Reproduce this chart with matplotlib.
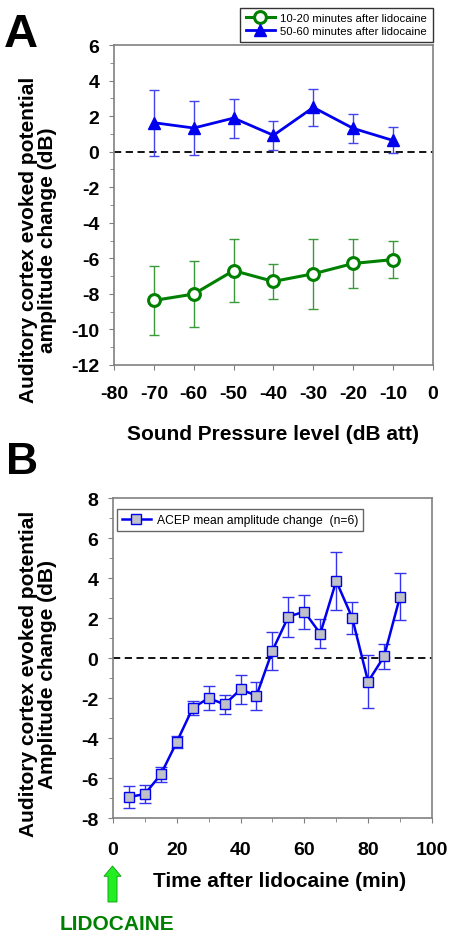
import matplotlib
matplotlib.use("Agg")
import matplotlib.pyplot as plt
import numpy as np

plt.rcParams["font.family"] = ["Liberation Sans", "DejaVu Sans"]
plt.rcParams["axes.unicode_minus"] = False

# panel A data
spl = [-70, -60, -50, -40, -30, -20, -10]
early = [-8.37, -8.01, -6.69, -7.30, -6.87, -6.29, -6.07]
early_err = [1.93, 1.85, 1.78, 0.98, 1.97, 1.38, 1.04]
late = [1.63, 1.33, 1.89, 0.92, 2.49, 1.31, 0.63]
late_err = [1.85, 1.52, 1.10, 0.82, 1.05, 0.82, 0.73]

# panel B data
t = [5, 10, 15, 20, 25, 30, 35, 40, 45, 50, 55, 60, 65, 70, 75, 80, 85, 90]
acep = [-6.95, -6.80, -5.82, -4.20, -2.50, -2.00, -2.32, -1.57, -1.88, 0.37,
        2.07, 2.32, 1.22, 3.85, 2.02, -1.18, 0.08, 3.07]
acep_err = [0.57, 0.47, 0.38, 0.30, 0.34, 0.60, 0.46, 0.73, 0.70, 0.95,
            1.00, 0.85, 0.72, 1.45, 0.80, 1.33, 0.64, 1.17]

green = "#008000"
blue = "#0000ee"

fig = plt.figure(figsize=(4.53, 9.37), dpi=100)

def style_axes(ax, xpad):
    for s in ax.spines.values():
        s.set_color("#808080")
        s.set_linewidth(1.2)
    ax.tick_params(axis="both", which="both", direction="out", colors="#808080",
                   labelcolor="black", labelsize=14)
    ax.tick_params(which="major", length=3.5)
    ax.tick_params(which="minor", length=3)
    ax.tick_params(axis="x", pad=xpad)
    ax.tick_params(axis="y", pad=7)
    for lab in ax.get_xticklabels() + ax.get_yticklabels():
        lab.set_fontweight("bold")

# ---------- A ----------
axA = fig.add_axes([0.2517, 0.6094, 0.704, 0.3415])
axA.axhline(0, color="black", ls="--", lw=1.3, dashes=(4, 2.5), zorder=1)
axA.errorbar(spl, early, yerr=early_err, fmt="none", ecolor="#3a9a3a", elinewidth=1,
             capsize=3.5, capthick=1, zorder=2)
axA.errorbar(spl, late, yerr=late_err, fmt="none", ecolor="#4444ee", elinewidth=1,
             capsize=3.5, capthick=1, zorder=2)
axA.plot(spl, early, color=green, lw=2.2, marker="o", ms=8.5, mfc="white", mec=green,
         mew=2.2, label="10-20 minutes after lidocaine", zorder=3)
axA.plot(spl, late, color=blue, lw=2, marker="^", ms=8, mfc=blue, mec=blue,
         label="50-60 minutes after lidocaine", zorder=3)
axA.set_xlim(-80, 0)
axA.set_ylim(-12, 6)
axA.set_xticks(np.arange(-80, 1, 10))
axA.set_yticks(np.arange(-12, 7, 2))
axA.set_yticks(np.arange(-11, 6, 2), minor=True)
style_axes(axA, 11)
axA.set_xlabel("Sound Pressure level (dB att)", fontsize=15, fontweight="bold", labelpad=16)
axA.set_ylabel("Auditory cortex evoked potential\namplitude change (dB)", fontsize=15,
               fontweight="bold", linespacing=0.95)
axA.yaxis.label.set_va("center")
axA.yaxis.set_label_coords(-0.238, 0.394)
legA = axA.legend(loc="lower right", bbox_to_anchor=(1.0, 1.01), fontsize=8.2,
                  frameon=True, fancybox=False, edgecolor="black", borderpad=0.5,
                  handlelength=2.6, handletextpad=0.45, labelspacing=0.25,
                  borderaxespad=0)
legA.get_frame().set_linewidth(1)
fig.text(4 / 453, 1 - 35 / 937, "A", fontsize=34, fontweight="bold", va="center")

# ---------- B ----------
axB = fig.add_axes([0.2494, 0.1259, 0.704, 0.3415])
axB.axhline(0, color="black", ls="--", lw=1.3, dashes=(4, 2.5), zorder=1)
axB.errorbar(t, acep, yerr=acep_err, fmt="none", ecolor="#3333ee", elinewidth=1,
             capsize=4, capthick=1, zorder=2)
axB.plot(t, acep, color=blue, lw=1.8, marker="s", ms=7, mfc="#c0c0c8", mec=blue,
         mew=1, label="ACEP mean amplitude change  (n=6)", zorder=3)
axB.set_xlim(0, 100)
axB.set_ylim(-8, 8)
axB.set_xticks(np.arange(0, 101, 20))
axB.set_xticks(np.arange(10, 100, 20), minor=True)
axB.set_yticks(np.arange(-8, 9, 2))
axB.set_yticks(np.arange(-7, 8, 2), minor=True)
style_axes(axB, 13)
axB.set_xlabel("Time after lidocaine (min)", fontsize=15, fontweight="bold")
axB.xaxis.set_label_coords(0.523, -0.195)
axB.xaxis.label.set_va("center")
axB.set_ylabel("Auditory cortex evoked potential\nAmplitude change (dB)", fontsize=15,
               fontweight="bold", linespacing=0.95)
axB.yaxis.label.set_va("center")
axB.yaxis.set_label_coords(-0.235, 0.453)
legB = axB.legend(loc="upper left", fontsize=8.7, frameon=True, fancybox=False,
                  edgecolor="#404040", borderpad=0.4, handlelength=2.4,
                  handletextpad=0.5, bbox_to_anchor=(0.0125, 0.966), borderaxespad=0)
legB.get_frame().set_linewidth(1)
fig.text(6 / 453, 1 - 463 / 937, "B", fontsize=32, fontweight="bold", va="center")

# lidocaine arrow
fig.patches.append(matplotlib.patches.FancyArrow(
    112.5 / 453, 1 - 903 / 937, 0, 36 / 937, width=0.02, head_width=0.038,
    head_length=0.011, length_includes_head=True, transform=fig.transFigure,
    facecolor="#22ee22", edgecolor="#119911", lw=0.6))
fig.text(117 / 453, 1 - 925 / 937, "LIDOCAINE", color=green, fontsize=15,
         fontweight="bold", ha="center", va="center")

fig.savefig("out.png", dpi=100)
